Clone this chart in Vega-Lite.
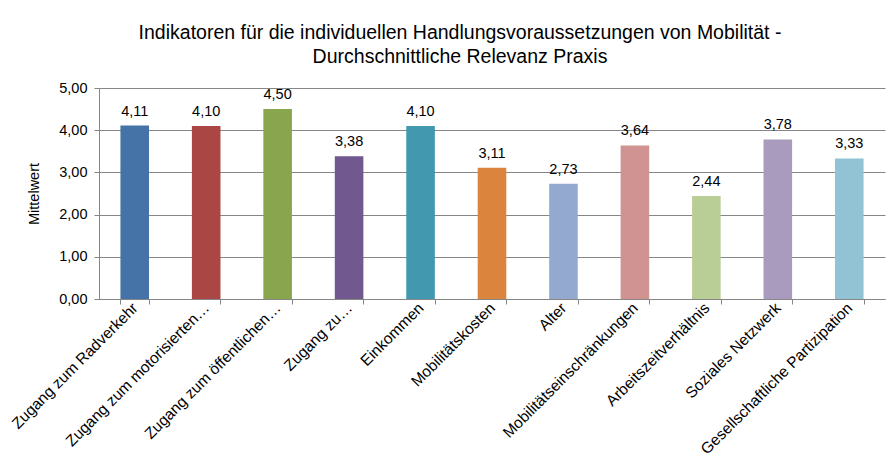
{
  "$schema": "https://vega.github.io/schema/vega-lite/v6.json",
  "autosize": {"type": "none"},
  "width": 786,
  "height": 211,
  "padding": {"left": 99, "top": 88, "right": 10, "bottom": 171},
  "background": "white",
  "title": {
    "text": ["Indikatoren für die individuellen Handlungsvoraussetzungen von Mobilität -", "Durchschnittliche Relevanz Praxis"],
    "font": "Liberation Sans",
    "fontSize": 19.5,
    "fontWeight": "normal",
    "color": "#000000",
    "lineHeight": 24,
    "anchor": "middle",
    "dx": -32,
    "offset": 13
  },
  "data": {
    "values": [
      {"kategorie": "Zugang zum Radverkehr", "mittelwert": 4.11},
      {"kategorie": "Zugang zum motorisierten…", "mittelwert": 4.10},
      {"kategorie": "Zugang zum öffentlichen…", "mittelwert": 4.50},
      {"kategorie": "Zugang zu…", "mittelwert": 3.38},
      {"kategorie": "Einkommen", "mittelwert": 4.10},
      {"kategorie": "Mobilitätskosten", "mittelwert": 3.11},
      {"kategorie": "Alter", "mittelwert": 2.73},
      {"kategorie": "Mobilitätseinschränkungen", "mittelwert": 3.64},
      {"kategorie": "Arbeitszeitverhältnis", "mittelwert": 2.44},
      {"kategorie": "Soziales Netzwerk", "mittelwert": 3.78},
      {"kategorie": "Gesellschaftliche Partizipation", "mittelwert": 3.33}
    ]
  },
  "encoding": {
    "x": {
      "field": "kategorie",
      "type": "nominal",
      "sort": null,
      "scale": {"paddingInner": 0.6, "paddingOuter": 0.3},
      "axis": {
        "title": null,
        "labelAngle": -45,
        "labelAlign": "right",
        "labelBaseline": "middle",
        "labelFont": "Liberation Sans",
        "labelFontSize": 15.5,
        "labelColor": "#000000",
        "labelPadding": 1,
        "labelLimit": 300,
        "tickBand": "extent",
        "tickSize": 5,
        "tickColor": "#868686",
        "domainColor": "#868686",
        "grid": false
      }
    },
    "y": {
      "field": "mittelwert",
      "type": "quantitative",
      "scale": {"domain": [0, 5]},
      "axis": {
        "title": "Mittelwert",
        "titleFont": "Liberation Sans",
        "titleFontSize": 14.5,
        "titleFontWeight": "normal",
        "titleColor": "#000000",
        "titlePadding": 17,
        "values": [0, 1, 2, 3, 4, 5],
        "format": ".2f",
        "labelFont": "Liberation Sans",
        "labelFontSize": 14.5,
        "labelColor": "#000000",
        "labelPadding": 7,
        "tickSize": 5,
        "tickColor": "#868686",
        "domainColor": "#868686",
        "gridColor": "#868686",
        "gridWidth": 1
      }
    }
  },
  "layer": [
    {
      "mark": {"type": "bar"},
      "encoding": {
        "color": {
          "field": "kategorie",
          "type": "nominal",
          "sort": null,
          "legend": null,
          "scale": {
            "range": ["#4572A7", "#AA4643", "#89A54E", "#71588F", "#4198AF", "#DB843D", "#93A9CF", "#D19392", "#B9CD96", "#A99BBD", "#92C3D4"]
          }
        }
      }
    },
    {
      "mark": {"type": "text", "baseline": "bottom", "dy": -7, "font": "Liberation Sans", "fontSize": 14.5, "color": "#000000"},
      "encoding": {
        "text": {"field": "mittelwert", "type": "quantitative", "format": ".2f"}
      }
    }
  ],
  "config": {
    "locale": {"number": {"decimal": ",", "thousands": ".", "grouping": [3], "currency": ["", " €"]}},
    "view": {"stroke": null}
  }
}
